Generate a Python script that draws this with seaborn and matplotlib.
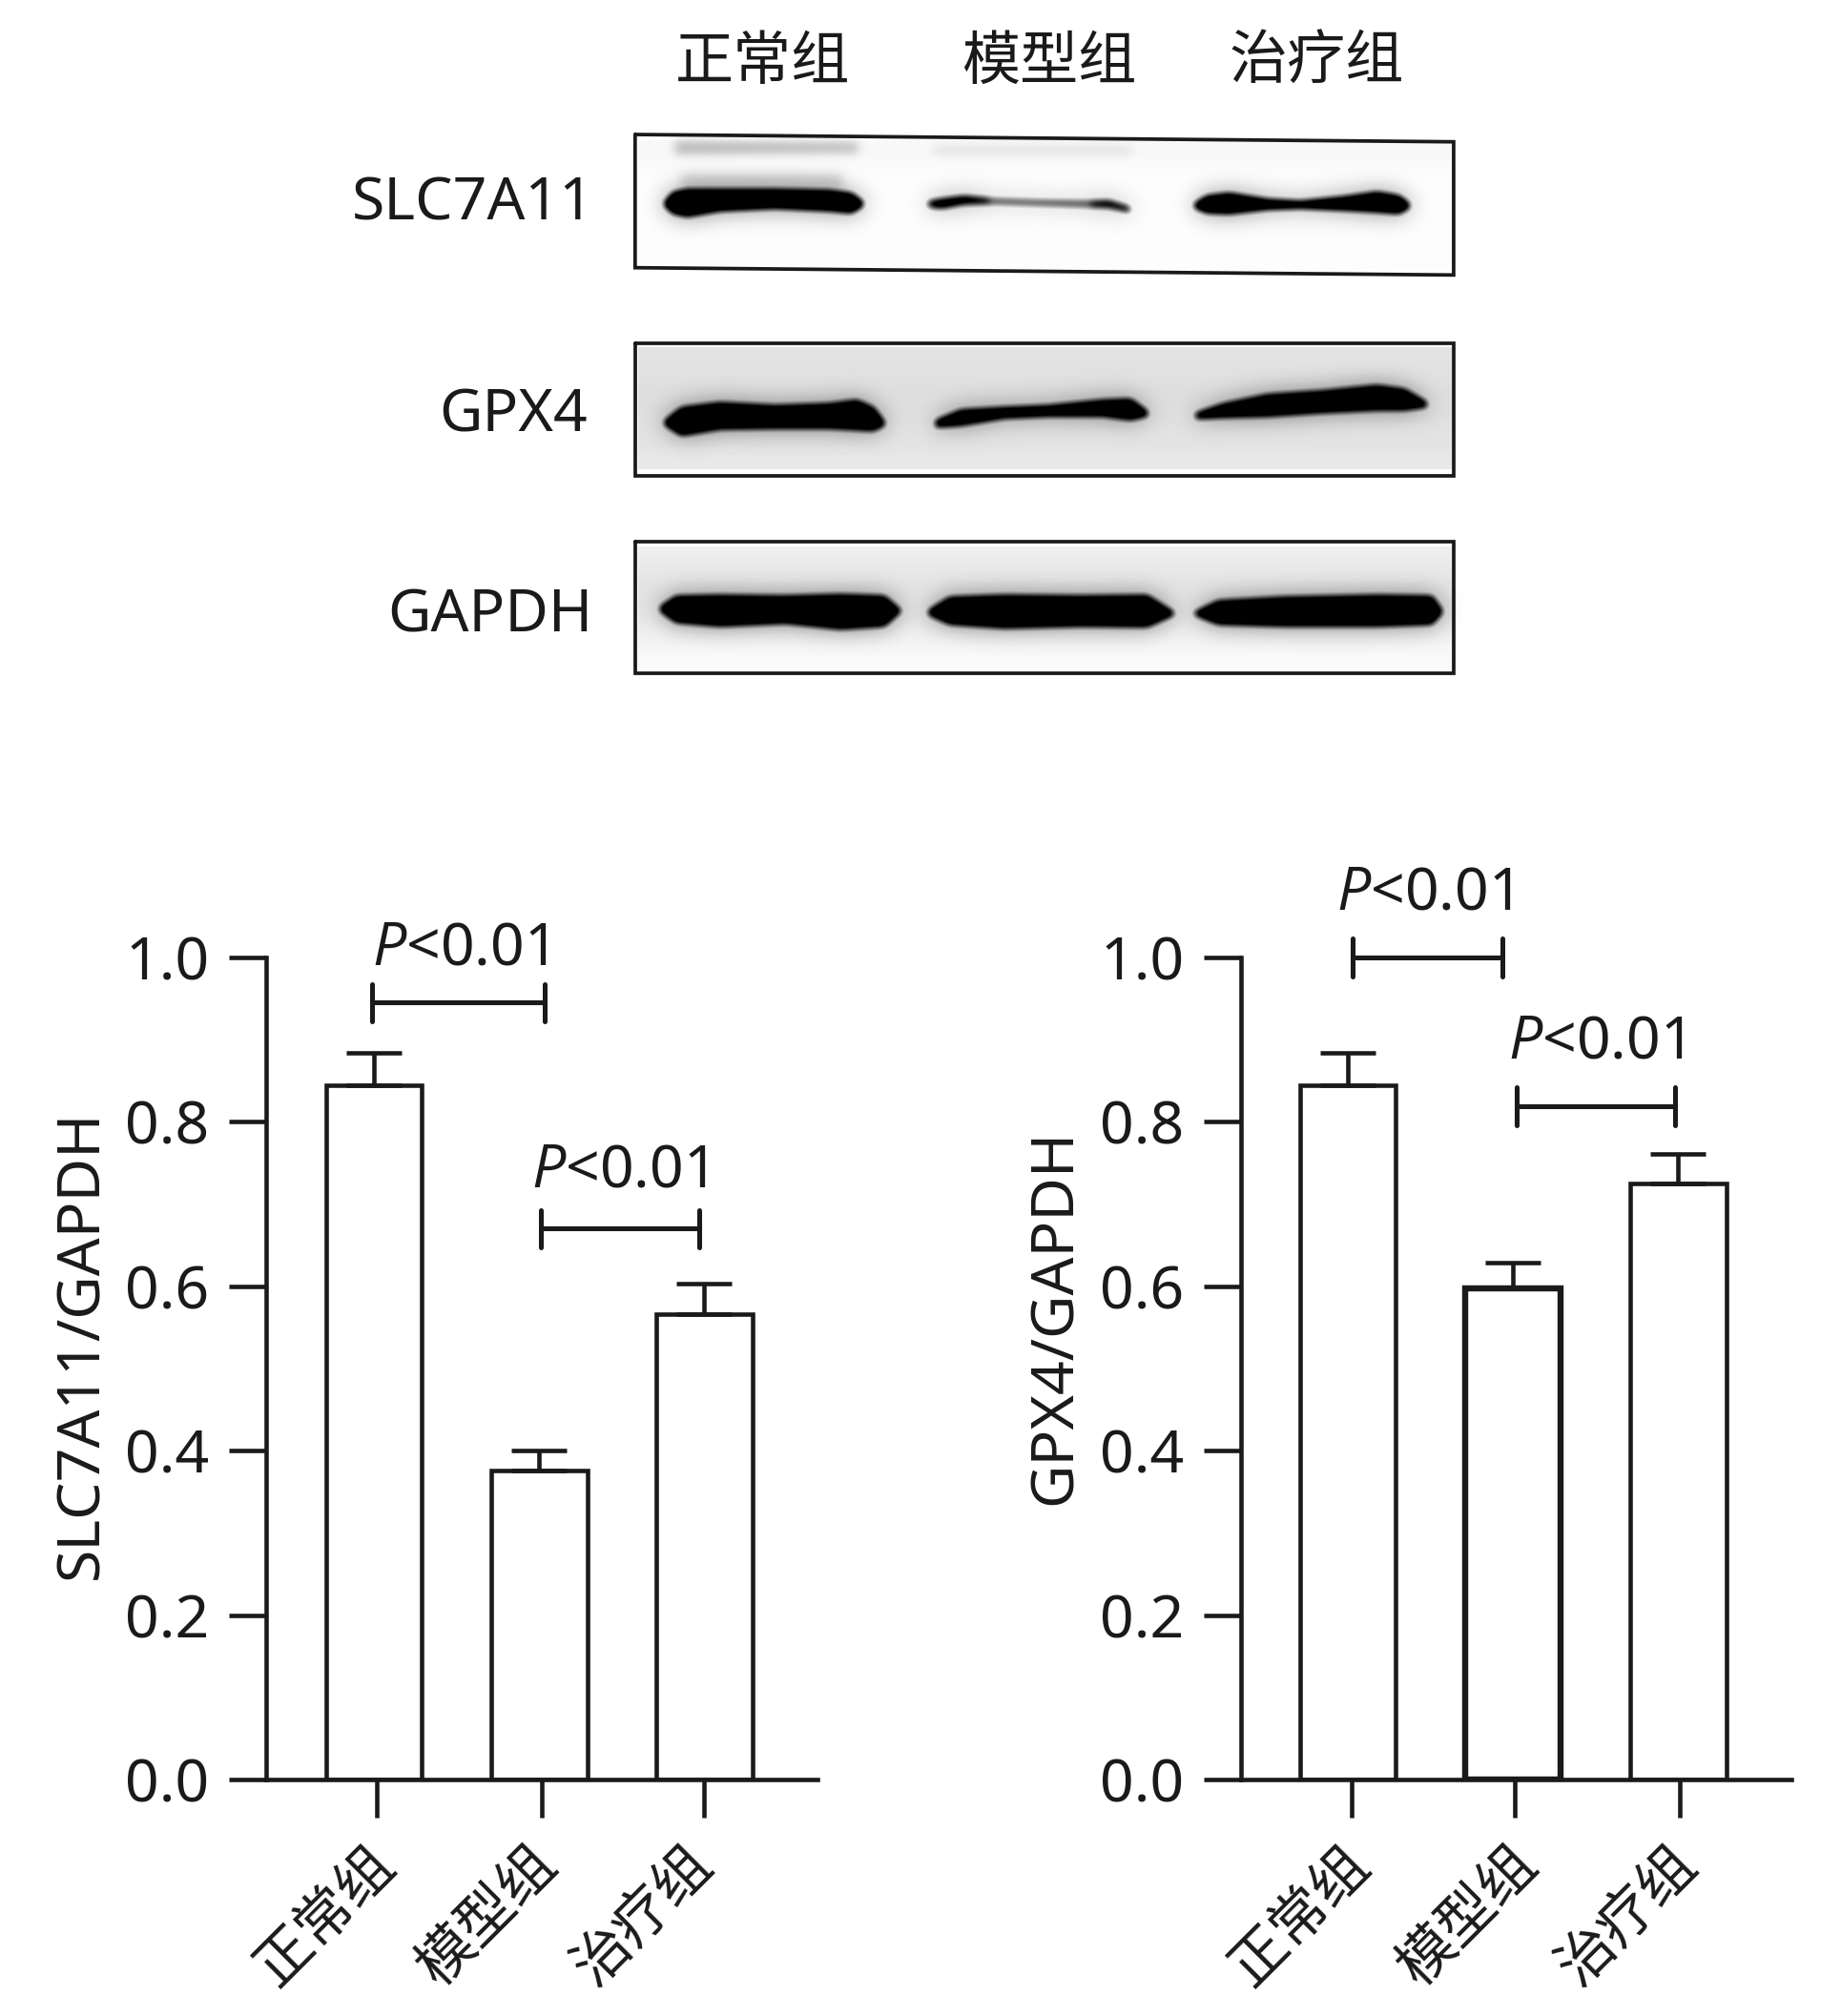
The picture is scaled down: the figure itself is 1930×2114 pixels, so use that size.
import numpy as np
import pandas as pd
import seaborn as sns
from matplotlib import pyplot as plt
from matplotlib.transforms import ScaledTranslation

groups = ['正常组', '模型组', '治疗组']
y_ticks = [0.0, 0.2, 0.4, 0.6, 0.8, 1.0]

slc_values = [0.845, 0.376, 0.566]
slc_errors = [0.039, 0.024, 0.037]
gpx_values = [0.845, 0.598, 0.725]
gpx_errors = [0.039, 0.031, 0.036]

# bracket: x start, x end, height, label x, label y
slc_brackets = [(-0.01, 1.035, 0.945, 0.517, 1.014), (1.01, 1.97, 0.67, 1.48, 0.743)]
gpx_brackets = [(0.03, 0.934, 1.0, 0.462, 1.081), (1.02, 1.98, 0.819, 1.50, 0.90)]

# blot shapes (x, upper edge, lower edge)
bands = [
    ([100, 115, 140, 200, 300, 400, 440, 460], [240, 215, 207, 207, 207, 210, 218, 240], [250, 270, 278, 262, 255, 262, 268, 250], '#000000'),
    ([580, 600, 640, 700, 780, 860, 910, 948], [240, 234, 226, 232, 236, 238, 238, 255], [250, 256, 246, 244, 248, 252, 254, 266], '#707070'),
    ([585, 610, 650, 690], [240, 234, 226, 234], [252, 254, 240, 238], '#111111'),
    ([880, 910, 945], [242, 238, 255], [250, 252, 264], '#222222'),
    ([1068, 1090, 1130, 1200, 1260, 1340, 1400, 1440, 1458], [245, 225, 218, 235, 240, 228, 215, 225, 245], [255, 268, 270, 258, 255, 260, 265, 270, 255], '#000000'),
    ([100, 130, 200, 300, 400, 450, 480, 500], [840, 805, 792, 800, 795, 785, 805, 845], [850, 878, 860, 858, 858, 862, 865, 850], '#000000'),
    ([595, 640, 720, 800, 900, 950, 980], [840, 812, 805, 800, 785, 782, 815], [855, 850, 830, 825, 825, 835, 825], '#000000'),
    ([1070, 1120, 1200, 1300, 1400, 1450, 1490], [820, 795, 770, 760, 745, 755, 790], [832, 828, 825, 815, 808, 808, 800], '#000000'),
    ([92, 120, 200, 320, 420, 500, 530], [1350, 1322, 1320, 1322, 1318, 1322, 1360], [1360, 1390, 1400, 1392, 1408, 1400, 1360], '#000000'),
    ([582, 620, 720, 860, 980, 1028], [1360, 1325, 1320, 1322, 1320, 1365], [1370, 1395, 1405, 1400, 1402, 1370], '#000000'),
    ([1068, 1110, 1230, 1400, 1500, 1518], [1365, 1335, 1325, 1320, 1322, 1360], [1370, 1395, 1400, 1400, 1395, 1365], '#000000'),
]
smears = [
    ([120, 450], [78, 82], [104, 100], '#b8b8b8'),
    ([130, 420], [165, 165], [200, 200], '#d8d8d8'),
    ([590, 950], [88, 88], [104, 104], '#e6e6e6'),
]
frames = [
    ([45, 1540, 1540, 45, 45], [55, 75, 440, 420, 55]),
    ([45, 1540, 1540, 45, 45], [628, 628, 990, 990, 628]),
    ([45, 1540, 1540, 45, 45], [1172, 1172, 1532, 1532, 1172]),
]
backgrounds = [
    ([0.97, 0.99, 0.99, 0.99, 0.99], (50, 1535, 425, 70)),
    ([0.89, 0.88, 0.87, 0.87, 0.88, 0.89, 0.91], (50, 1535, 972, 640)),
    ([0.93, 0.91, 0.89, 0.89, 0.90, 0.93, 0.96, 0.98], (50, 1535, 1522, 1185)),
]

blot_names = ['SLC7A11', 'GPX4', 'GAPDH']
blot_name_pos = [(368, 159), (399, 324), (381, 480)]
lane_pos = [(593, 49), (816, 49), (1024, 49)]

W, H = 1930, 2114
SHRINK = 1930 / 1432
INK = '#1a1a1a'
LW = 3.3
CJK = ['Noto Sans CJK SC', 'DejaVu Sans']

sns.set_style('ticks')
plt.rcParams['font.family'] = ['Noto Sans', 'Noto Sans CJK SC', 'DejaVu Sans']
plt.rcParams['mathtext.fontset'] = 'custom'
plt.rcParams['mathtext.it'] = 'Open Sans:italic'
plt.rcParams['mathtext.rm'] = 'Noto Sans'


def axes_at(fig, x0, y0, x1, y1):
    return fig.add_axes([x0 / W, 1 - y1 / H, (x1 - x0) / W, (y1 - y0) / H])


def blur(img, sigma):
    r = int(3 * sigma)
    k = np.exp(-np.arange(-r, r + 1) ** 2 / (2 * sigma ** 2))
    k /= k.sum()
    img = np.apply_along_axis(lambda c: np.convolve(c, k, mode='same'), 0, img)
    return np.apply_along_axis(lambda c: np.convolve(c, k, mode='same'), 1, img)


def render_layer(draw):
    # draw a layer off screen at the blot's pixel size, give back its grey levels
    tmp = plt.figure(figsize=(9, 6), dpi=100, facecolor='white')
    ax = tmp.add_axes([0, 0, 1, 1])
    draw(ax)
    ax.set_xlim(0, 1568)
    ax.set_ylim(1568, 0)
    ax.axis('off')
    tmp.canvas.draw()
    out = np.asarray(tmp.canvas.buffer_rgba())[:, :, 0] / 255
    plt.close(tmp)
    return out


def draw_backgrounds(ax):
    for levels, extent in backgrounds:
        ax.imshow(np.array(levels)[:, None], extent=extent, cmap='gray', vmin=0, vmax=1,
                  aspect='auto', interpolation='bilinear')


def draw_shapes(shapes):
    def draw(ax):
        for x, top, bot, col in shapes:
            ax.fill(x + x[::-1], top + bot[::-1], fc=col, ec=col, lw=2, joinstyle='round')
    return draw


def draw_blots(fig):
    bg = render_layer(draw_backgrounds)
    smear = blur(1 - render_layer(draw_shapes(smears)), 5)
    raw = 1 - render_layer(draw_shapes(bands))
    core = np.clip((blur(raw, 3.5) - 0.12) / 0.6, 0, 1)
    halo = blur(raw, 12)
    img = bg * (1 - smear) * (1 - core) * (1 - 0.5 * halo)

    ax = axes_at(fig, 640, 120, 1540, 720)
    ax.imshow(img, extent=(0, 1568, 1568, 0), cmap='gray', vmin=0, vmax=1, aspect='auto', interpolation='nearest')
    for x, y in frames:
        ax.plot(x, y, color=INK, lw=2.7, solid_joinstyle='miter')
    ax.set_xlim(0, 1568)
    ax.set_ylim(1568, 0)
    ax.axis('off')
    for name, (x, y) in zip(blot_names, blot_name_pos):
        fig.text(x * SHRINK / W, 1 - y * SHRINK / H, name, fontsize=45, color=INK, ha='center', va='center')
    for name, (x, y) in zip(groups, lane_pos):
        fig.text(x * SHRINK / W, 1 - y * SHRINK / H, name, fontsize=44, color=INK, ha='center', va='center', family=CJK)


def draw_panel(fig, ax, values, errors, brackets, ylabel, label_x, label_y, xlim, tick_pos, label_shift, thick_bar=None):
    df = pd.DataFrame({'group': groups, 'value': values})
    sns.barplot(data=df, x='group', y='value', order=groups, color='white', saturation=1, width=0.58,
                edgecolor=INK, linewidth=LW, errorbar=None, ax=ax)
    ax.errorbar(range(3), values, yerr=[[0, 0, 0], errors], fmt='none', ecolor=INK,
                elinewidth=LW, capsize=21, capthick=LW, zorder=1)
    if thick_bar is not None:
        ax.patches[thick_bar].set_linewidth(LW * 1.4)

    for x0, x1, y, tx, ty in brackets:
        ax.plot([x0, x1], [y, y], color=INK, lw=LW * 1.1, clip_on=False)
        for x in (x0, x1):
            ax.plot([x, x], [y - 0.023, y + 0.023], color=INK, lw=LW * 1.1, clip_on=False)
        ax.text(tx, ty - 0.004, r'$\mathit{P}$<0.01', fontsize=45, color=INK, ha='center', va='center', clip_on=False)

    ax.set_xlim(*xlim)
    ax.set_ylim(0, 1)
    ax.set_yticks(y_ticks)
    ax.set_yticklabels([f'{t:.1f}' for t in y_ticks])
    ax.tick_params(axis='y', length=28, width=LW, labelsize=45, pad=15, labelcolor=INK, color=INK)
    ax.tick_params(axis='x', length=29, width=LW, pad=13, color=INK)
    ax.set_xticks(tick_pos)
    ax.set_xticklabels(groups, rotation=45, ha='right', rotation_mode='anchor', fontsize=43, color=INK, family=CJK)
    for lab, dx in zip(ax.get_xticklabels(), label_shift):
        lab.set_transform(lab.get_transform() + ScaledTranslation(dx / 72, 0, fig.dpi_scale_trans))
    ax.set_xlabel('')
    ax.set_ylabel(ylabel, fontsize=45, color=INK, va='center')
    ax.yaxis.set_label_coords(label_x, label_y)
    for side in ['left', 'bottom']:
        ax.spines[side].set_linewidth(LW)
        ax.spines[side].set_color(INK)
    ax.spines['top'].set_visible(False)
    ax.spines['right'].set_visible(False)
    ax.patch.set_alpha(0)


if __name__ == '__main__':
    fig = plt.figure(figsize=(W / 100, H / 100), dpi=100, facecolor='white')
    draw_blots(fig)

    ax_left = axes_at(fig, 279, 1004, 857, 1866)
    draw_panel(fig, ax_left, slc_values, slc_errors, slc_brackets, 'SLC7A11/GAPDH', -0.334, 0.529,
               (-0.654, 2.685), [0.015, 1.015, 2.0], [-8, -11, -16])

    ax_right = axes_at(fig, 1301, 1004, 1878, 1866)
    draw_panel(fig, ax_right, gpx_values, gpx_errors, gpx_brackets, 'GPX4/GAPDH', -0.336, 0.563,
               (-0.646, 2.685), [0.023, 1.012, 2.008], [-8, -5, -9], thick_bar=1)

    fig.savefig('out.png', dpi=100)
